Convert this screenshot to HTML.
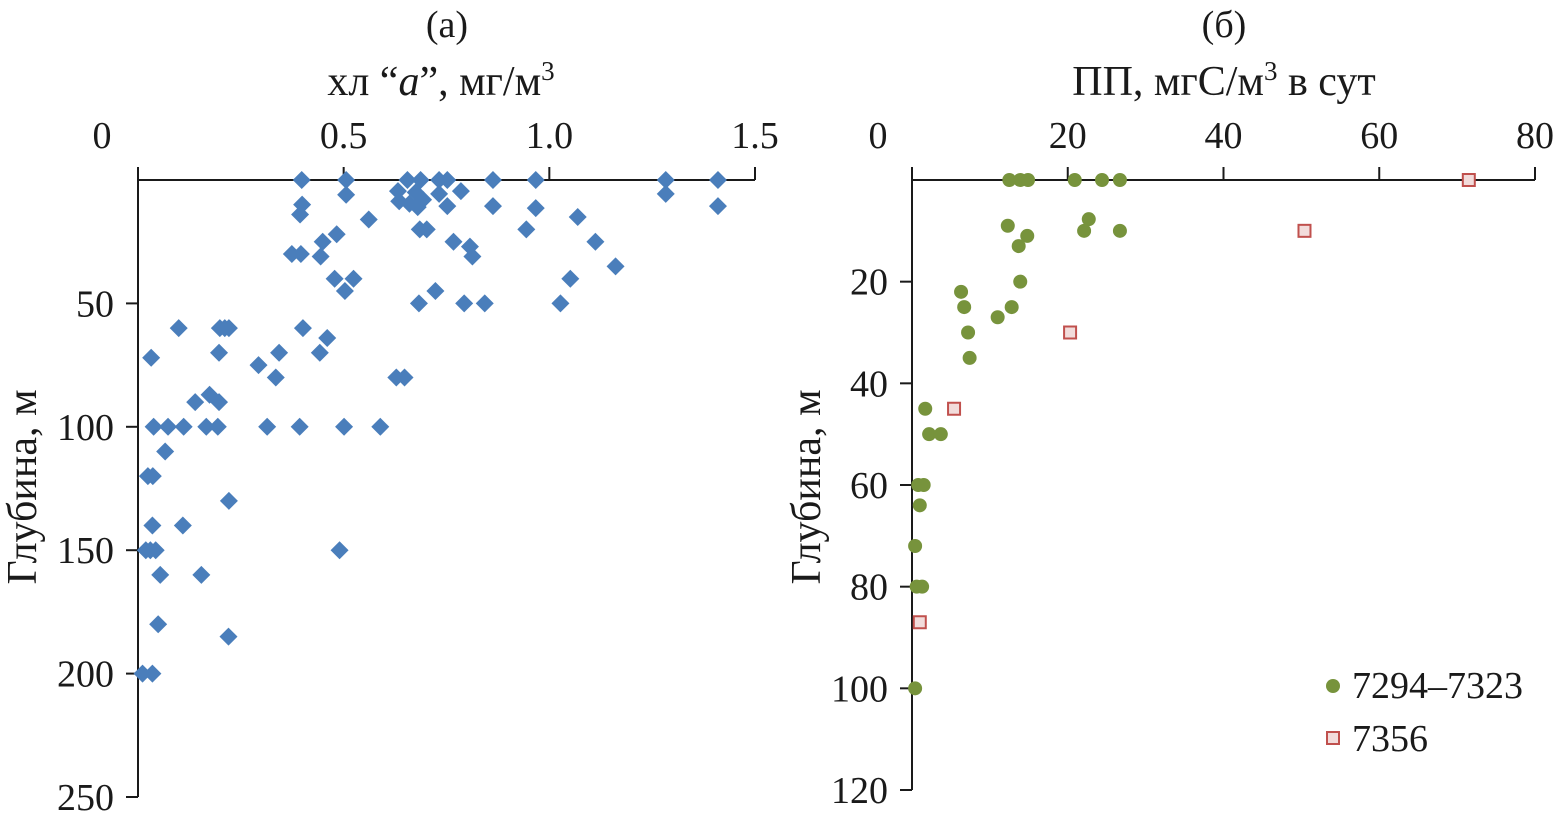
<!DOCTYPE html>
<html><head><meta charset="utf-8"><style>
html,body{margin:0;padding:0;background:#fff}
svg text{font-family:"Liberation Serif",serif;fill:#1a1a1a}
</style></head><body>
<svg id="c" width="1554" height="822" viewBox="0 0 1554 822" xmlns="http://www.w3.org/2000/svg">
<text x="447" y="37" font-size="38" text-anchor="middle">(а)</text>
<text x="441" y="95" font-size="42" text-anchor="middle">хл “<tspan font-style="italic">а</tspan>”, мг/м<tspan dy="-15" font-size="27">3</tspan></text>
<text transform="translate(36,487) rotate(-90)" font-size="42" text-anchor="middle">Глубина, м</text>
<text x="1224" y="37" font-size="38" text-anchor="middle">(б)</text>
<text x="1224" y="95" font-size="42" text-anchor="middle">ПП, мгС/м<tspan dy="-15" font-size="27">3</tspan><tspan dy="15"> в сут</tspan></text>
<text transform="translate(820,487) rotate(-90)" font-size="42" text-anchor="middle">Глубина, м</text>
<g id="ga"></g><g id="gb"></g>
<circle cx="1333" cy="686" r="7" fill="#77933c"/>
<text x="1352" y="698" font-size="38">7294–7323</text>
<rect x="1327" y="732" width="12" height="12" fill="#f2dcdb" stroke="#c0504d" stroke-width="2"/>
<text x="1352" y="751" font-size="38">7356</text>
</svg>
<script>
const aX=[0.398,0.506,0.655,0.687,0.732,0.752,0.863,0.967,1.283,1.410,0.399,0.394,0.506,0.632,0.675,0.732,0.785,1.283,0.635,0.660,0.680,0.693,0.752,0.863,0.967,1.410,0.561,1.069,0.483,0.685,0.702,0.944,0.449,0.767,0.807,1.112,0.374,0.396,0.444,0.813,1.161,0.478,0.524,1.051,0.503,0.723,0.683,0.793,0.843,1.027,
0.099,0.199,0.211,0.221,0.401,0.460,0.032,0.197,0.343,0.442,0.293,0.335,0.628,0.648,0.139,0.174,0.197,0.038,0.073,0.111,0.166,0.194,0.314,0.393,0.501,0.589,0.066,0.024,0.036,0.221,0.035,0.109,0.019,0.030,0.043,0.490,0.054,0.154,0.049,0.220,0.011,0.035];
const aD=[0,0,0,0,0,0,0,0,0,0,10,14,6,4.5,5,5.6,4.5,5.6,8.6,9.6,11,8,10.6,10.6,11.4,10.6,16,15,22,20,20,20,25,25,27,25,30,30,31,31,35,40,40,40,45,45,50,50,50,50,
60,60,60,60,60,64,72,70,70,70,75,80,80,80,90,87,90,100,100,100,100,100,100,100,100,100,110,120,120,130,140,140,150,150,150,150,160,160,180,185,200,200];
const aXTicks=["0","0.5","1.0","1.5"],aXTickVals=[0,0.5,1,1.5];
const aYTicks=[50,100,150,200,250];
const gX=[12.5,13.9,14.9,20.9,24.4,26.7,12.3,22.7,22.1,26.7,14.8,13.7,13.9,6.3,6.7,12.8,11,7.2,7.4,1.7,2.2,3.7,0.8,1.5,1.0,0.4,0.6,1.3,0.4];
const gD=[0,0,0,0,0,0,9,7.7,10,10,11,13,20,22,25,25,27,30,35,45,50,50,60,60,64,72,80,80,100];
const rX=[71.5,50.4,20.3,5.4,1.0];
const rD=[0,10,30,45,87];
const bXTicks=[0,20,40,60,80];
const bYTicks=[20,40,60,80,100,120];
const NS="http://www.w3.org/2000/svg";
function mk(p,t,at){const e=document.createElementNS(NS,t);for(const k in at)e.setAttribute(k,at[k]);p.appendChild(e);return e;}
const ax=v=>138+v*(617/1.5), ay=d=>180+d*(617/250);
const ga=document.getElementById('ga');
let l=mk(ga,'line',{x1:138,y1:180,x2:755,y2:180,stroke:'#1a1a1a','stroke-width':2});


l=mk(ga,'line',{x1:138,y1:180,x2:138,y2:797,stroke:'#1a1a1a','stroke-width':2});


aXTickVals.forEach((v,i)=>{
 const t=mk(ga,'line',{x1:ax(v),y1:180,x2:ax(v),y2:167,stroke:'#1a1a1a','stroke-width':2});
 
 
 const tx=mk(ga,'text',{x:i==0?102:ax(v),y:148,'font-size':38,'text-anchor':'middle'});tx.textContent=aXTicks[i];
 
 
});
aYTicks.forEach(v=>{
 const t=mk(ga,'line',{x1:126,y1:ay(v),x2:138,y2:ay(v),stroke:'#1a1a1a','stroke-width':2});
 
 
 const tx=mk(ga,'text',{x:114,y:ay(v)+13,'font-size':38,'text-anchor':'end'});tx.textContent=v;
 
 
});
aX.forEach((v,i)=>{
 const x=ax(v),y=ay(aD[i]),s=9;
 const p=mk(ga,'polygon',{points:`${x},${y-s} ${x+s},${y} ${x},${y+s} ${x-s},${y}`,fill:'#4a7ebb'});
 
 
});
const bx=v=>912+v*(623/80), by=d=>180+d*(610/120);
const gb=document.getElementById('gb');
l=mk(gb,'line',{x1:912,y1:180,x2:1535,y2:180,stroke:'#1a1a1a','stroke-width':2});


l=mk(gb,'line',{x1:912,y1:180,x2:912,y2:790,stroke:'#1a1a1a','stroke-width':2});


bXTicks.forEach((v,i)=>{
 const t=mk(gb,'line',{x1:bx(v),y1:180,x2:bx(v),y2:167,stroke:'#1a1a1a','stroke-width':2});
 
 
 const tx=mk(gb,'text',{x:i==0?878:bx(v),y:148,'font-size':38,'text-anchor':'middle'});tx.textContent=v;
 
 
});
bYTicks.forEach(v=>{
 const t=mk(gb,'line',{x1:900,y1:by(v),x2:912,y2:by(v),stroke:'#1a1a1a','stroke-width':2});
 
 
 const tx=mk(gb,'text',{x:888,y:by(v)+13,'font-size':38,'text-anchor':'end'});tx.textContent=v;
 
 
});
gX.forEach((v,i)=>{
 const c=mk(gb,'circle',{cx:bx(v),cy:by(gD[i]),r:7,fill:'#77933c'});
 
 
});
rX.forEach((v,i)=>{
 const r=mk(gb,'rect',{x:bx(v)-6,y:by(rD[i])-6,width:12,height:12,fill:'#f2dcdb',stroke:'#c0504d','stroke-width':2});
 
 
});
</script>
</body></html>
